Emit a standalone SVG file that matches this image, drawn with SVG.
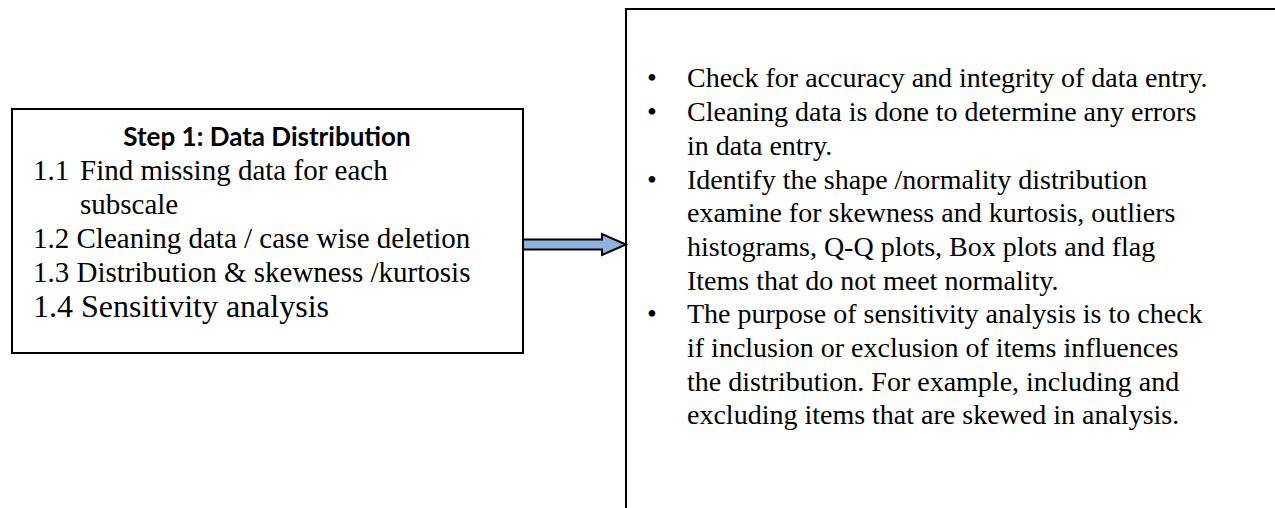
<svg xmlns="http://www.w3.org/2000/svg" width="1275" height="508" viewBox="0 0 1275 508">
  <style>
    .box { fill: #ffffff; stroke: #000000; stroke-width: 2; }
    .head { font-family: Lato, "Liberation Sans", sans-serif; font-weight: bold; font-size: 26px; fill: #000000; }
    .body { font-family: "Liberation Serif", "Times New Roman", serif; font-size: 29px; fill: #000000; }
    .big { font-size: 32px; }
    .note { font-family: "Liberation Serif", "Times New Roman", serif; font-size: 28px; fill: #000000; }
    .arrow { fill: #8db3e2; stroke: #000000; stroke-width: 2; stroke-linejoin: miter; }
  </style>
  <rect width="1275" height="508" fill="#ffffff"/>

  <!-- Step 1 box -->
  <g id="step1">
    <rect class="box" x="12" y="109" width="511" height="244"/>
    <text class="head" x="267" y="146" text-anchor="middle">Step 1: Data Distribution</text>
    <text class="body" x="33" y="180">1.1</text>
    <text class="body" x="80" y="180">Find missing data for each</text>
    <text class="body" x="80" y="214">subscale</text>
    <text class="body" x="33" y="248">1.2 Cleaning data / case wise deletion</text>
    <text class="body" x="33" y="282">1.3 Distribution &amp; skewness /kurtosis</text>
    <text class="body big" x="33" y="317">1.4 Sensitivity analysis</text>
  </g>

  <!-- details box (runs off the right and bottom edges) -->
  <g id="details">
    <rect class="box" x="626" y="9" width="700" height="540"/>
    <g class="note">
      <text x="647" y="87">•</text>
      <text x="687" y="87">Check for accuracy and integrity of data entry.</text>
      <text x="647" y="121">•</text>
      <text x="687" y="121">Cleaning data is done to determine any errors</text>
      <text x="687" y="155">in data entry.</text>
      <text x="647" y="189">•</text>
      <text x="687" y="189">Identify the shape /normality distribution</text>
      <text x="687" y="222">examine for skewness and kurtosis, outliers</text>
      <text x="687" y="256">histograms, Q-Q plots, Box plots and flag</text>
      <text x="687" y="290">Items that do not meet normality.</text>
      <text x="647" y="323">•</text>
      <text x="687" y="323">The purpose of sensitivity analysis is to check</text>
      <text x="687" y="357">if inclusion or exclusion of items influences</text>
      <text x="687" y="391">the distribution. For example, including and</text>
      <text x="687" y="424">excluding items that are skewed in analysis.</text>
    </g>
  </g>

  <!-- connector -->
  <g id="connectors">
    <path class="arrow" d="M523,239.5 H602 V234 L626,244.5 L602,255 V249.5 H523 Z"/>
  </g>
</svg>
